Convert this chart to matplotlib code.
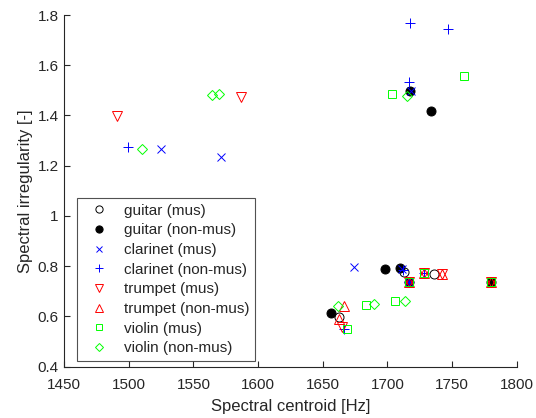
import matplotlib
matplotlib.use("Agg")
import matplotlib.pyplot as plt
from matplotlib.ticker import FuncFormatter

plt.rcParams['font.family'] = ['Liberation Sans', 'DejaVu Sans']

# Data (spectral centroid [Hz], spectral irregularity [-])
guitar_mus_x = [1712.9, 1736.1, 1662.8]
guitar_mus_y = [0.776, 0.769, 0.599]
guitar_non_x = [1717.8, 1733.5, 1698.2, 1709.8, 1656.4, 1780.2, 1717.0]
guitar_non_y = [1.499, 1.419, 0.788, 0.792, 0.615, 0.737, 0.738]
clar_mus_x = [1524.7, 1571.6, 1674.4, 1711.0, 1718.0, 1717.0]
clar_mus_y = [1.266, 1.234, 0.798, 0.790, 1.497, 0.738]
clar_non_x = [1717.5, 1747.1, 1717.0, 1499.4, 1728.6, 1666.7, 1712.0, 1717.0]
clar_non_y = [1.769, 1.746, 1.532, 1.274, 0.774, 0.550, 0.785, 0.738]
trp_mus_x = [1490.7, 1586.8, 1717.0, 1728.6, 1742.3, 1780.2, 1664.7]
trp_mus_y = [1.399, 1.474, 0.738, 0.774, 0.768, 0.737, 0.556]
trp_non_x = [1666.5, 1662.6, 1717.0, 1728.6, 1742.3, 1780.2]
trp_non_y = [0.641, 0.590, 0.738, 0.774, 0.768, 0.737]
vln_mus_x = [1759.3, 1703.6, 1683.3, 1705.8, 1668.6, 1717.0, 1728.6, 1780.2]
vln_mus_y = [1.559, 1.486, 0.645, 0.662, 0.548, 0.738, 0.774, 0.737]
vln_non_x = [1715.0, 1564.6, 1570.0, 1510.0, 1689.4, 1713.9, 1661.6]
vln_non_y = [1.476, 1.483, 1.486, 1.268, 0.648, 0.662, 0.639]

labels = ['guitar (mus)', 'guitar (non-mus)', 'clarinet (mus)', 'clarinet (non-mus)',
          'trumpet (mus)', 'trumpet (non-mus)', 'violin (mus)', 'violin (non-mus)']

fig = plt.figure(figsize=(5.36, 4.18), dpi=100)
ax = fig.add_axes([0.1196, 0.1232, 0.8444, 0.8409])

ms = 6.5
mew = 0.7
ax.plot(guitar_mus_x, guitar_mus_y, 'o', ls='none', mfc='none', mec='k', ms=ms, mew=mew, label=labels[0])
ax.plot(guitar_non_x, guitar_non_y, 'o', ls='none', mfc='k', mec='k', ms=ms, mew=mew, label=labels[1])
ax.plot(clar_mus_x, clar_mus_y, 'x', ls='none', color='b', ms=5.5, mew=mew, label=labels[2])
ax.plot(clar_non_x, clar_non_y, '+', ls='none', color='b', ms=7, mew=mew, label=labels[3])
ax.plot(trp_mus_x, trp_mus_y, 'v', ls='none', mfc='none', mec='r', ms=ms, mew=mew, label=labels[4])
ax.plot(trp_non_x, trp_non_y, '^', ls='none', mfc='none', mec='r', ms=ms, mew=mew, label=labels[5])
ax.plot(vln_mus_x, vln_mus_y, 's', ls='none', mfc='none', mec=(0, 1, 0), ms=5.5, mew=mew, label=labels[6])
ax.plot(vln_non_x, vln_non_y, 'D', ls='none', mfc='none', mec=(0, 1, 0), ms=5, mew=mew, label=labels[7])

ax.set_xlim(1450, 1800)
ax.set_ylim(0.4, 1.8)
ax.set_xticks([1450, 1500, 1550, 1600, 1650, 1700, 1750, 1800])
ax.set_yticks([0.4, 0.6, 0.8, 1.0, 1.2, 1.4, 1.6, 1.8])
ax.yaxis.set_major_formatter(FuncFormatter(lambda v, p: '%g' % round(v, 2)))

tc = (0.15, 0.15, 0.15)
for s in ['top', 'right']:
    ax.spines[s].set_visible(False)
for s in ['left', 'bottom']:
    ax.spines[s].set_color(tc)
    ax.spines[s].set_linewidth(0.8)
ax.tick_params(direction='in', length=4, width=0.8, colors=tc, labelsize=11)
ax.tick_params(axis='x', pad=8.5)
ax.tick_params(axis='y', pad=4)

ax.set_xlabel('Spectral centroid [Hz]', fontsize=12, color=tc, labelpad=5)
ax.set_ylabel('Spectral irregularity [-]', fontsize=12, color=tc, labelpad=3)

leg = ax.legend(loc='lower left', bbox_to_anchor=(0.0278, 0.0165), borderaxespad=0,
                fontsize=11, frameon=True, fancybox=False, handlelength=2.2,
                handletextpad=0.55, labelspacing=0.37, borderpad=0.35, numpoints=1,
                markerscale=0.8)
leg.get_frame().set_edgecolor(tc)
leg.get_frame().set_linewidth(0.8)
for t in leg.get_texts():
    t.set_color(tc)

fig.savefig('out.png', dpi=100)
